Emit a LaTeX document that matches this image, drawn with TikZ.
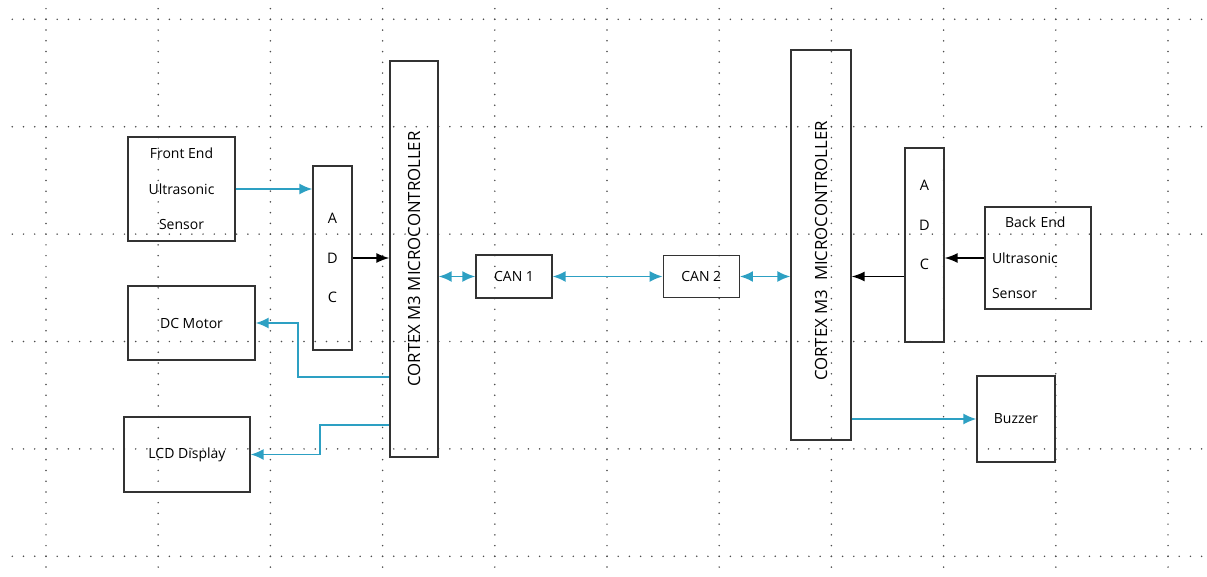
\documentclass[tikz,border=0pt]{standalone}
\usepackage{fontspec}
\setmainfont{Open Sans}
\usetikzlibrary{positioning, arrows.meta, calc}
\definecolor{sigblue}{RGB}{45,160,195}

\begin{document}
\begin{tikzpicture}[
    x=1pt, y=-1pt,
    block/.style={draw=black!80, line width=1.3pt, inner sep=0pt, align=center, font=\fontsize{14}{35.5}\selectfont},
    adc_box/.style={block, minimum width=39pt, font=\fontsize{14.5}{39.5}\selectfont},
    mcu_box/.style={block, minimum width=48pt},
    mcu_text/.style={rotate=90, font=\fontsize{16.8}{18}\selectfont},
    grid_h/.style={draw=black!70, line width=1.7pt, line cap=round, dash pattern=on 0pt off 11.22pt},
    grid_v/.style={draw=black!70, line width=1.7pt, line cap=round, dash pattern=on 0pt off 10.74pt},
    sig_arrow/.style={-{Latex[length=13pt, width=11pt]}, line width=1.7pt, draw=sigblue},
    bus_arrow/.style={{Latex[length=13pt, width=11pt]}-{Latex[length=13pt, width=11pt]}, line width=1.9pt, draw=sigblue},
    adc_arrow/.style={-{Latex[length=13pt, width=10pt]}, line width=1.4pt, draw=black}
    ]

    \useasboundingbox (0,0) rectangle (1207,576);

    % Dotted page grid
    \foreach \gy in {19.3, 126.7, 234.1, 341.5, 448.9, 556.3}
        \draw[grid_h] (12.3,\gy) -- (1202,\gy);
    \foreach \gx in {0,...,10}
        \draw[grid_v] ({46+112.2*\gx},8.6) -- ({46+112.2*\gx},568);

    % Front end side
    \node[block, minimum width=107pt, minimum height=104pt] (fsens) at (181.5,189) {Front End\\Ultrasonic\\Sensor};
    \node[adc_box, minimum height=184pt] (adcL) at (332.5,258) {A\\D\\C};
    \node[mcu_box, minimum height=396pt] (mcuL) at (414,259) {};
    \node[mcu_text] at (mcuL) {CORTEX M3 MICROCONTROLLER};
    \node[block, minimum width=127pt, minimum height=74pt] (dcm) at (191.5,323) {DC Motor};
    \node[block, minimum width=126pt, minimum height=75pt] (lcd) at (187,454.5) {LCD Display};

    % CAN bus
    \node[block, minimum width=76pt, minimum height=43pt] (can1) at (514,276.5) {CAN 1};
    \node[block, minimum width=76pt, minimum height=42pt, right=110pt of can1] (can2) {CAN 2};

    % Back end side
    \node[mcu_box, minimum width=60pt, minimum height=390pt] (mcuR) at (821,245) {};
    \node[mcu_text] at ($(mcuR.center)+(0,6)$) {CORTEX M3~~MICROCONTROLLER};
    \node[adc_box, minimum height=194pt] (adcR) at (924.5,245) {};
    \node[align=center, font=\fontsize{14.5}{39.5}\selectfont] at ($(adcR.center)+(0,-20)$) {A\\D\\C};
    \node[block, minimum width=106pt, minimum height=102pt, text width=92pt, align=left] (bsens) at (1038,258) {\hspace*{13pt}Back End\\Ultrasonic\\Sensor};
    \node[block, minimum width=78pt, minimum height=86pt] (buzz) at (1016,419) {Buzzer};

    % Connections
    \draw[sig_arrow] (fsens.east) -- (fsens.east -| adcL.west);
    \draw[adc_arrow] (adcL.east) -- (adcL.east -| mcuL.west);
    \draw[sig_arrow] ($(mcuL.west)+(0,118)$) -| (298,323) -- (dcm.east);
    \draw[sig_arrow] ($(mcuL.west)+(0,166)$) -| (320,454.5) -- (lcd.east);
    \draw[bus_arrow] (mcuL.east |- can1.west) -- (can1.west);
    \draw[bus_arrow] (can1.east) -- (can2.west);
    \draw[bus_arrow] (can2.east) -- (can2.east -| mcuR.west);
    \draw[adc_arrow] (adcR.west |- can2.east) -- (mcuR.east |- can2.east);
    \draw[adc_arrow] (bsens.west) -- (bsens.west -| adcR.east);
    \draw[sig_arrow] (mcuR.east |- buzz.west) -- (buzz.west);

\end{tikzpicture}
\end{document}
